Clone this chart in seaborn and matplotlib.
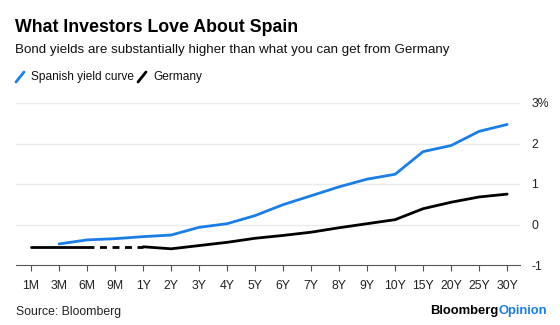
import matplotlib
matplotlib.use("Agg")
import matplotlib.pyplot as plt
import seaborn as sns
import pandas as pd
import numpy as np
from matplotlib.lines import Line2D

tenors = ["1M", "3M", "6M", "9M", "1Y", "2Y", "3Y", "4Y", "5Y", "6Y",
          "7Y", "8Y", "9Y", "10Y", "15Y", "20Y", "25Y", "30Y"]
spain = [np.nan, -0.48, -0.38, -0.35, -0.30, -0.26, -0.07, 0.02, 0.22, 0.49,
         0.71, 0.93, 1.12, 1.24, 1.80, 1.95, 2.30, 2.47]
germany = [-0.55, -0.55, -0.55, np.nan, -0.55, -0.60, -0.52, -0.44, -0.34, -0.27,
           -0.19, -0.08, 0.02, 0.12, 0.39, 0.55, 0.68, 0.75]
y_ticks = [-1, 0, 1, 2, 3]
y_labels = ["-1", "0", "1", "2", "3%"]

BLUE = "#1a7ee8"
BLACK = "#000000"

sns.set_theme(style="white")
plt.rcParams["font.family"] = ["Liberation Sans", "DejaVu Sans"]

df = pd.DataFrame({"pos": np.arange(len(tenors)), "tenor": tenors,
                   "spain": spain, "germany": germany})

fig = plt.figure(figsize=(5.6, 3.25), dpi=100)
ax = fig.add_axes([16/560, 1-265/325, (520-16)/560, (265-103)/325])

# grid
for v in y_ticks[1:]:
    ax.axhline(v, color="#ebebeb", lw=1.0, zorder=0)

sp = df.dropna(subset=["spain"])
sns.lineplot(data=sp, x="pos", y="spain", ax=ax, color=BLUE, lw=2.0, sort=False)

# Germany: solid segments with a dashed bridge over missing 9M
g = df.copy()
seg1 = g.iloc[0:3]
seg2 = g.iloc[4:]
bridge = g.iloc[[2, 4]].copy()
sns.lineplot(data=seg1, x="pos", y="germany", ax=ax, color=BLACK, lw=2.0, sort=False)
sns.lineplot(data=seg2, x="pos", y="germany", ax=ax, color=BLACK, lw=2.0, sort=False)
sns.lineplot(data=bridge, x="pos", y="germany", ax=ax, color=BLACK, lw=2.0,
             sort=False, linestyle=(0, (2.5, 2)))

ax.set_xlim(-0.54, 17.46)
ax.set_ylim(-1, 3)
ax.set_xticks(range(len(tenors)))
ax.set_xticklabels(tenors, fontsize=8.8, color="#222222")
ax.set_yticks(y_ticks)
ax.set_yticklabels(y_labels, fontsize=8.8, color="#222222")
ax.yaxis.tick_right()
ax.tick_params(axis="y", length=0, pad=8)
ax.tick_params(axis="x", length=4, width=0.8, color="#555555", pad=7, direction="out", bottom=True)
ax.set_xlabel("")
ax.set_ylabel("")
for s in ["top", "left", "right"]:
    ax.spines[s].set_visible(False)
ax.spines["bottom"].set_color("#555555")
ax.spines["bottom"].set_linewidth(0.8)
ax.spines["bottom"].set_zorder(0.5)

# titles
fig.text(15/560, 1-27/325, "What Investors Love About Spain", fontsize=12.8,
         fontweight="bold", va="center", ha="left", color="#000000")
fig.text(15/560, 1-50/325, "Bond yields are substantially higher than what you can get from Germany",
         fontsize=9.6, va="center", ha="left", color="#111111")

# legend
def leg(x0, color, label):
    fig.add_artist(Line2D([x0/560, (x0+8)/560], [1-82/325, 1-72/325],
                          color=color, lw=2.0, transform=fig.transFigure))
    fig.text((x0+15)/560, 1-77/325, label, fontsize=8.6, va="center", ha="left", color="#111111")

leg(16, BLUE, "Spanish yield curve")
leg(138, BLACK, "Germany")

fig.text(16/560, 1-312/325, "Source: Bloomberg", fontsize=8.8, va="center", ha="left", color="#222222")

t2 = fig.text(547/560, 1-311/325, "Opinion", fontsize=9.4, fontweight="bold",
              va="center", ha="right", color=BLUE)
fig.canvas.draw()
bb = t2.get_window_extent(renderer=fig.canvas.get_renderer())
fig.text(bb.x0/560 - 0.5/560, 1-311/325, "Bloomberg", fontsize=9.4, fontweight="bold",
         va="center", ha="right", color="#000000")

fig.savefig("out.png", dpi=100)
